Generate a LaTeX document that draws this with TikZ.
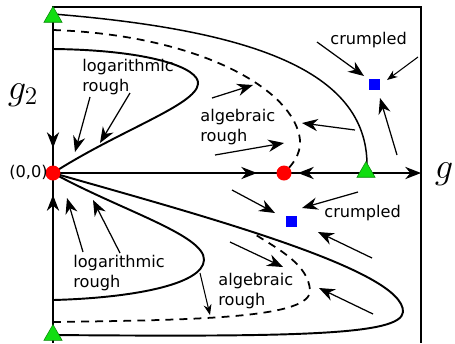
\documentclass[tikz,border=0pt]{standalone}
\usepackage{fontspec}
\setsansfont{DejaVu Sans}
\usetikzlibrary{arrows.meta, shapes.geometric}
\definecolor{fpred}{HTML}{FF0000}
\definecolor{fpgreen}{HTML}{11DD11}
\definecolor{fpblue}{HTML}{0000FF}

\begin{document}
\begin{tikzpicture}[x=0.02cm, y=-0.02cm,
    frame/.style={line width=0.8pt},
    flowline/.style={line width=1.1pt},
    sepline/.style={line width=1pt, dash pattern=on 4.5pt off 3.5pt},
    arr/.style={-{Stealth[length=9pt, width=7pt]}, line width=0.7pt},
    arrs/.style={-{Stealth[length=6pt, width=4.5pt]}, line width=0.6pt},
    fixpt/.style={circle, fill=fpred, minimum size=0.3cm, inner sep=0pt},
    saddle/.style={regular polygon, regular polygon sides=3, fill=fpgreen,
                   draw=fpgreen!60!black, line width=0.3pt,
                   minimum size=0.42cm, inner sep=0pt},
    crump/.style={rectangle, fill=fpblue, minimum size=0.22cm, inner sep=0pt},
    lbl/.style={font=\sffamily\fontsize{9.2}{11.4}\selectfont, align=left,
                anchor=west, inner sep=0pt},
    axlbl/.style={font=\fontsize{21}{24}\selectfont, inner sep=0pt}
  ]
    \useasboundingbox (0,0) rectangle (455,343);

    % fixed points and ends
    \coordinate (O) at (53,173);
    \coordinate (P) at (284,173);
    \coordinate (S) at (367,165);
    \coordinate (gend) at (421,173);

    % frame and axis
    \draw[frame] (53,343) -- (53,7) -- (421,7) -- (421,343);
    \draw[frame, -{Stealth[length=9pt, width=7pt]}] (O) -- (gend);
    \draw[arr] (53,100) -- (53,148);
    \draw[arr] (53,240) -- (53,195);
    \draw[arr] (200,173) -- (257,173);
    \draw[arr] (345,173) -- (298,173);

    % upper half
    \draw[line width=0.85pt] (53,14) .. controls (250,30) and (367,70) .. (S);
    \draw[sepline] (53,30) .. controls (200,35) and (295,90) .. (300,140)
        .. controls (301,155) and (292,165) .. (P);
    \draw[flowline] (53,49) .. controls (150,50) and (200,68) .. (198,84)
        .. controls (196,105) and (120,130) .. (O);

    % lower half
    \draw[flowline] (O) .. controls (200,215) and (405,270) .. (403,312)
        .. controls (401,335) and (300,337) .. (53,335);
    \draw[sepline] (53,322) .. controls (200,320) and (312,318) .. (310,290)
        .. controls (308,265) and (280,250) .. (256,235);
    \draw[flowline] (O) .. controls (120,210) and (205,235) .. (204,260)
        .. controls (203,285) and (130,298) .. (53,300);

    % flow arrows, upper
    \draw[arr] (90,97) -- (75,152);
    \draw[arr] (130,93) -- (100,143);
    \draw[arr] (212,98) -- (253,85);
    \draw[arr] (215,155) -- (284,143);
    \draw[arr] (355,130) -- (302,123);
    \draw[arr] (317,42) -- (364,76);
    \draw[arrs] (418,57) -- (387,80);
    \draw[arr] (397,155) -- (380,98);

    % flow arrows, lower
    \draw[arr] (232,190) -- (275,213);
    \draw[arr] (358,192) -- (302,208);
    \draw[arr] (372,258) -- (318,232);
    \draw[arr] (230,242) -- (283,267);
    \draw[arr] (373,314) -- (319,288);
    \draw[arrs] (200,273) -- (210,315);
    \draw[arr] (83,252) -- (67,198);
    \draw[arr] (120,253) -- (93,200);

    % fixed points
    \node[fixpt] (origin) at (O) {};
    \node[fixpt] (alg) at (P) {};
    \node[saddle] (stop) at (53,17) {};
    \node[saddle] (smid) at (366,172) {};
    \node[saddle] (sbot) at (53,335) {};
    \node[crump] (cup) at (374.5,84) {};
    \node[crump] (cdown) at (291.5,221) {};

    % labels
    \node[lbl] (logup) at (82,77) {logarithmic\\rough};
    \node[lbl] (algup) at (200,127) {algebraic\\rough};
    \node[lbl] (logdown) at (73,273) {logarithmic\\rough};
    \node[lbl] (algdown) at (218,291) {algebraic\\rough};
    \node[lbl] (crup) at (330,40) {crumpled};
    \node[lbl] (crdown) at (324,213) {crumpled};
    \node[lbl, anchor=east] (zero) at (48,172) {(0,0)};
    \node[axlbl] (gtwo) at (23,95) {$g_2$};
    \node[axlbl] (gone) at (444,174) {$g$};
  \end{tikzpicture}
\end{document}
